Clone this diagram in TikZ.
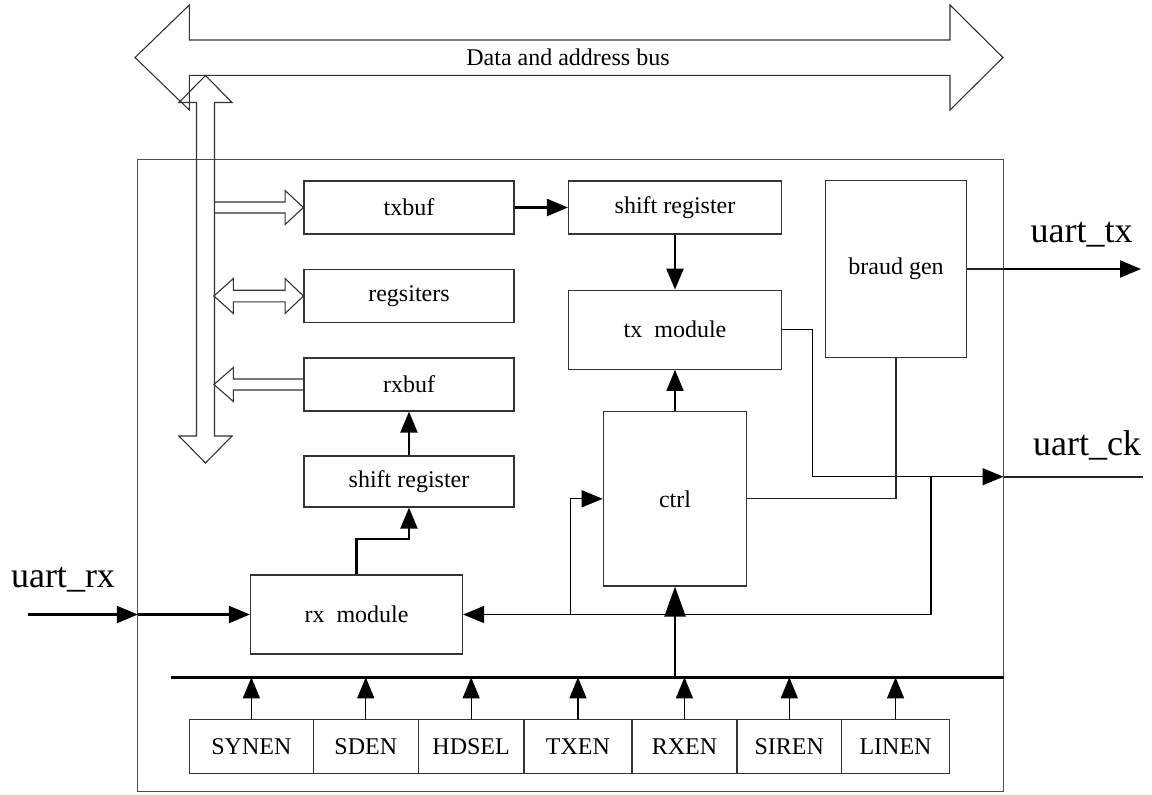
\documentclass[tikz,border=0pt]{standalone}
\usepackage{fontspec}
\setmainfont{Liberation Serif}
\usetikzlibrary{arrows.meta,calc}
\tikzset{
  blk/.style={rectangle, draw=black!80, line width=0.6pt, inner sep=0pt,
    font=\fontsize{12}{14}\selectfont, minimum width=105pt, minimum height=26.5pt},
  regbox/.style={blk, minimum height=27pt},
  hollow/.style={draw=black!80, line width=0.55pt, line join=miter},
  sig/.style={-{Triangle[length=10.5pt,width=8.5pt]}, line width=0.6pt, draw=black},
  sigthick/.style={sig, line width=1.1pt},
  bigsig/.style={-{Triangle[length=15pt,width=10.5pt]}, line width=1.1pt, draw=black},
  wire/.style={line width=0.6pt, draw=black!85},
  pinlbl/.style={font=\fontsize{18}{20}\selectfont},
}
\begin{document}
\begin{tikzpicture}[x=0.5pt,y=-0.5pt]
  \useasboundingbox (0,0) rectangle (1152,794);
  % outer frame
  \draw[black!70, line width=0.6pt] (137.8,159.3) rectangle (1003.5,791.5);
  % data and address bus
  \draw[hollow] (135,57.5) -- (189.3,5) -- (189.3,40) -- (950,40) -- (950,5) -- (1003,57.5)
    -- (950,110) -- (950,75.3) -- (189.3,75.3) -- (189.3,110) -- cycle;
  \node[font=\fontsize{12}{14}\selectfont] (buslbl) at (568,57.5) {Data and address bus};
  % internal bus
  \draw[hollow] (205.5,75.5) -- (232,102.5) -- (214.5,102.5) -- (214.5,436) -- (232,436)
    -- (205.5,463) -- (179,436) -- (196.5,436) -- (196.5,102.5) -- (179,102.5) -- cycle;
  % blocks
  \node[blk] (txbuf) at (409,207.5) {txbuf};
  \node[blk] (regs) at (409,296) {regsiters};
  \node[blk] (rxbuf) at (409,384.5) {rxbuf};
  \node[blk, minimum height=25.5pt] (rxshift) at (409,481.5) {shift register};
  \node[blk, minimum width=106.5pt] (txshift) at (675,207.5) {shift register};
  \node[blk, minimum width=106.5pt, minimum height=39.5pt] (txmod) at (675,329.7) {tx\ \ module};
  \node[blk, minimum width=70.5pt, minimum height=88.3pt] (braud) at (896,269) {braud gen};
  \node[blk, minimum width=71.7pt, minimum height=87.2pt] (ctrl) at (675,498.8) {ctrl};
  \node[blk, minimum width=106pt, minimum height=39.5pt] (rxmod) at (356.5,614.5) {rx\ \ module};
  % bus to blocks
  \draw[hollow, shift={(txbuf.west)}] (-89.5,-5.5) -- (-18.3,-5.5) -- (-18.3,-17) -- (0,0)
    -- (-18.3,17) -- (-18.3,5.5) -- (-89.5,5.5);
  \draw[hollow, shift={(regs.west)}] (-89.5,0) -- (-70,-17.5) -- (-70,-5.8) -- (-18.3,-5.8)
    -- (-18.3,-17.5) -- (0,0) -- (-18.3,17.5) -- (-18.3,5.8) -- (-70,5.8) -- (-70,17.5) -- cycle;
  \draw[hollow, shift={(rxbuf.west)}] (0,-5.5) -- (-70,-5.5) -- (-70,-17) -- (-89.5,0)
    -- (-70,17) -- (-70,5.5) -- (0,5.5);
  % tx path
  \draw[sigthick] (txbuf.east) -- (txshift.west);
  \draw[sigthick] (txshift.south) -- (txmod.north);
  \draw[sig] (ctrl.north) -- (txmod.south);
  % rx path
  \draw[sigthick] (rxshift.north) -- (rxbuf.south);
  \draw[sigthick] (rxmod.north) -- ++(0,-35.7) -| (rxshift.south);
  % pins
  \coordinate (rxin) at (27.6,614.5);
  \coordinate (rxpin) at (137.8,614.5);
  \draw[sigthick] (rxin) -- (rxpin);
  \draw[sigthick] (rxpin) -- (rxmod.west);
  \node[pinlbl] (rxlbl) at (63,580) {uart\_rx};
  \coordinate (txpin) at (1003.5,269);
  \coordinate (txout) at (1141,269);
  \draw[wire] (braud.east) -- (txpin);
  \draw[sigthick] (txpin) -- (txout);
  \node[pinlbl] (txlbl) at (1081.7,235) {uart\_tx};
  \coordinate (ckpin) at (1003.5,476.7);
  \coordinate (ckout) at (1143,476.7);
  \draw[sig] (txmod.east) -- ++(30.5,0) |- (ckpin);
  \draw[wire, line width=1.1pt] (ckpin) -- (ckout);
  \node[pinlbl] (cklbl) at (1087,445) {uart\_ck};
  % clock feedback
  \coordinate (ckfb) at (931,476.7);
  \coordinate (ctrlfb) at (570.7,614.5);
  \draw[sig] (ckfb) |- (rxmod.east);
  \draw[sig] (ctrlfb) |- (ctrl.west);
  \draw[wire] (braud.south) |- (ctrl.east);
  % config register bits
  \coordinate (cfgL) at (170.6,677.3);
  \coordinate (cfgR) at (1003.5,677.3);
  \draw[line width=1.2pt] (cfgL) -- (cfgR);
  \draw[bigsig] (ctrl.south |- cfgL) -- (ctrl.south);
  \foreach \nm/\cx/\w in {SYNEN/251.4/61.8, SDEN/365.75/52.55, HDSEL/471.15/52.85,
      TXEN/577.95/53.95, RXEN/684.45/52.55, SIREN/789.3/52.3, LINEN/895.55/53.95} {
    \node[regbox, minimum width=\w pt] (\nm) at (\cx,746.3) {\nm};
    \draw[sig] (\nm.north) -- (\nm.north |- cfgL);
  }
\end{tikzpicture}
\end{document}
